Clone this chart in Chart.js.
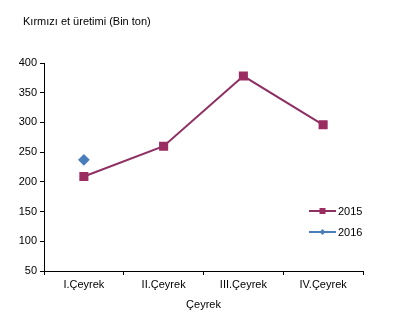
<!DOCTYPE html>
<html>
<head>
<meta charset="utf-8">
<script src="https://cdn.jsdelivr.net/npm/chart.js@4/dist/chart.umd.min.js"></script>
<style>
  html, body { margin: 0; padding: 0; background: #fff; }
  #wrap { width: 404px; height: 322px; }
</style>
</head>
<body>
<div id="wrap"><canvas id="c" width="404" height="322"></canvas></div>
<script>
// data
const quarters = ['I.Çeyrek', 'II.Çeyrek', 'III.Çeyrek', 'IV.Çeyrek'];
const values2015 = [209, 260, 378, 296];
const values2016 = [237, null, null, null];
const yTicks = [50, 100, 150, 200, 250, 300, 350, 400];

const titleText = 'Kırmızı et üretimi (Bin ton)';
const xTitle = 'Çeyrek';
const font = 'Liberation Sans, Arial, sans-serif';

// title + legend drawn by hand so they sit where the original puts them
const extras = {
  id: 'extras',
  afterDraw(chart) {
    const ctx = chart.ctx;
    ctx.save();
    ctx.fillStyle = '#000';
    ctx.font = '11px ' + font;
    ctx.textBaseline = 'middle';
    ctx.fillText(titleText, 23, 22);

    const a = chart.chartArea;
    chart.data.datasets.forEach((ds, i) => {
      const y = a.bottom - 60 + i * 21;
      const x0 = a.right - 54, x1 = a.right - 27;
      ctx.strokeStyle = ds.borderColor;
      ctx.lineWidth = 2;
      ctx.beginPath(); ctx.moveTo(x0, y); ctx.lineTo(x1, y); ctx.stroke();
      ctx.fillStyle = ds.pointBackgroundColor;
      const m = (x0 + x1) / 2;
      if (ds.pointStyle === 'rect') {
        ctx.fillRect(m - 3, y - 3, 6, 6);
      } else {
        ctx.beginPath();
        ctx.moveTo(m, y - 3); ctx.lineTo(m + 3, y); ctx.lineTo(m, y + 3); ctx.lineTo(m - 3, y);
        ctx.closePath(); ctx.fill();
      }
      ctx.fillStyle = '#000';
      ctx.fillText(ds.label, x1 + 2, y + 1);
    });
    ctx.restore();
  }
};

new Chart(document.getElementById('c'), {
  type: 'line',
  data: {
    labels: quarters,
    datasets: [
      {
        label: '2015', data: values2015,
        borderColor: '#8e3062', backgroundColor: '#9b2d63',
        pointBackgroundColor: '#9b2d63', pointBorderColor: '#9b2d63',
        pointStyle: 'rect', pointRadius: 5, borderWidth: 2, tension: 0
      },
      {
        label: '2016', data: values2016,
        borderColor: '#4a7ebb', backgroundColor: '#4a7ebb',
        pointBackgroundColor: '#4a7ebb', pointBorderColor: '#4a7ebb',
        pointStyle: 'rectRot', pointRadius: 4.5, borderWidth: 2, tension: 0
      }
    ]
  },
  options: {
    responsive: false,
    animation: false,
    layout: { padding: { top: 63, right: 41, bottom: 10, left: 0 } },
    plugins: { legend: { display: false }, title: { display: false }, tooltip: { enabled: false } },
    scales: {
      x: {
        offset: true,
        grid: { display: true, offset: true, drawOnChartArea: false, drawTicks: true, tickLength: 4, color: '#000' },
        border: { display: true, color: '#000', width: 1 },
        ticks: { color: '#000', font: { family: font, size: 11 }, padding: 3, maxRotation: 0 },
        title: { display: true, text: xTitle, color: '#000', font: { family: font, size: 11 }, padding: { top: 0, bottom: 0 } },
        afterFit(s) { s.height = 41; }
      },
      y: {
        min: 50, max: 400,
        afterBuildTicks(s) { s.ticks = yTicks.map(v => ({ value: v })); },
        grid: { display: true, drawOnChartArea: false, drawTicks: true, tickLength: 4, color: '#000' },
        border: { display: true, color: '#000', width: 1 },
        ticks: { color: '#000', font: { family: font, size: 11 }, padding: 3 },
        afterFit(s) { s.width = 44; }
      }
    }
  },
  plugins: [extras]
});
</script>
</body>
</html>
